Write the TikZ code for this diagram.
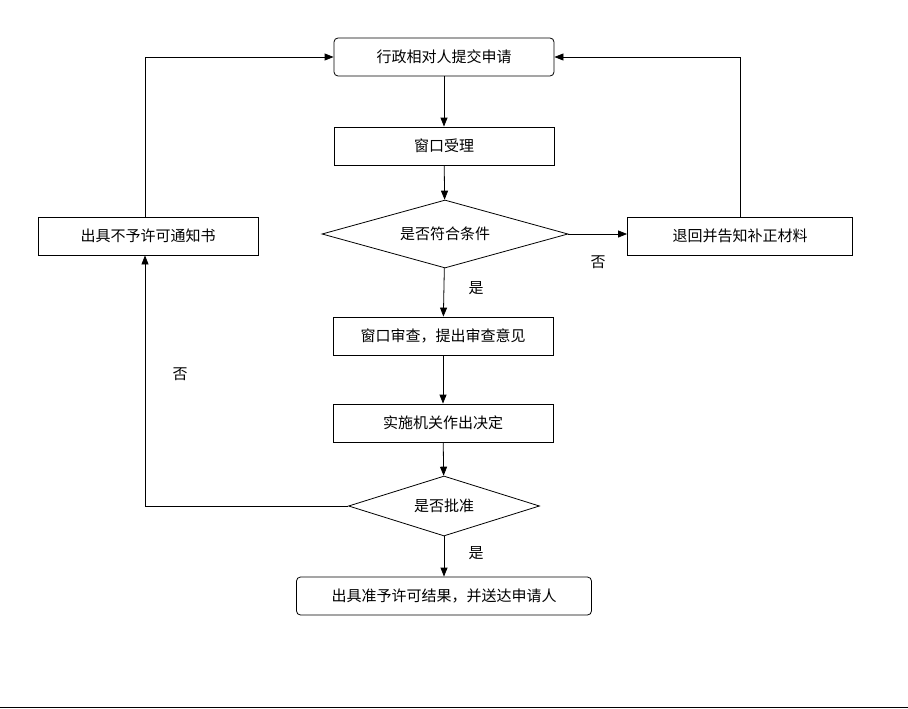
\documentclass[tikz,border=0pt]{standalone}
\usepackage{fontspec}
\setmainfont{Noto Sans CJK SC}
\usetikzlibrary{shapes.geometric,arrows.meta}
\begin{document}
\begin{tikzpicture}[x=1pt,y=-1pt,
  box/.style={draw,thick,minimum width=220pt,minimum height=38pt,inner sep=0pt,font=\fontsize{15}{17}\selectfont},
  rbox/.style={box,rounded corners=4pt},
  dia/.style={draw,thick,diamond,aspect=3.6,inner sep=0pt,font=\fontsize{15}{17}\selectfont},
  lab/.style={font=\fontsize{15}{17}\selectfont},
  arr/.style={-{Triangle[length=9pt,width=7pt]},thick}]
\useasboundingbox (0,0) rectangle (908,709);
\node[rbox] (A) at (444,57) {行政相对人提交申请};
\node[box] (B) at (444,146) {窗口受理};
\node[dia,minimum width=246pt,minimum height=68pt] (C) at (445,234) {是否符合条件};
\node[box,minimum width=225pt] (D) at (740,236) {退回并告知补正材料};
\node[box] (E) at (148,236) {出具不予许可通知书};
\node[box] (F) at (443,336) {窗口审查，提出审查意见};
\node[box] (G) at (443,423) {实施机关作出决定};
\node[dia,minimum width=191pt,minimum height=60pt] (H) at (444,506) {是否批准};
\node[rbox,minimum width=295pt] (I) at (444,596) {出具准予许可结果，并送达申请人};
\node[lab] (l1) at (476,288) {是};
\node[lab] (l2) at (598,262) {否};
\node[lab] (l3) at (180,374) {否};
\node[lab] (l4) at (476,553) {是};
\draw[arr] (A) -- (B);
\draw[arr] (B) -- (C);
\draw[arr] (C.east) -- (D.west |- C.east);
\draw[arr] (D.north) |- (A.east);
\draw[arr] (E.north -| 145,0) |- (A.west);
\draw[arr] (C) -- (F);
\draw[arr] (F) -- (G);
\draw[arr] (G) -- (H);
\draw[arr] (H) -- (I);
\draw[arr] (H.west) -| (E.south -| 145,0);
\draw[thin] (0,707) -- (908,707);
\end{tikzpicture}
\end{document}
